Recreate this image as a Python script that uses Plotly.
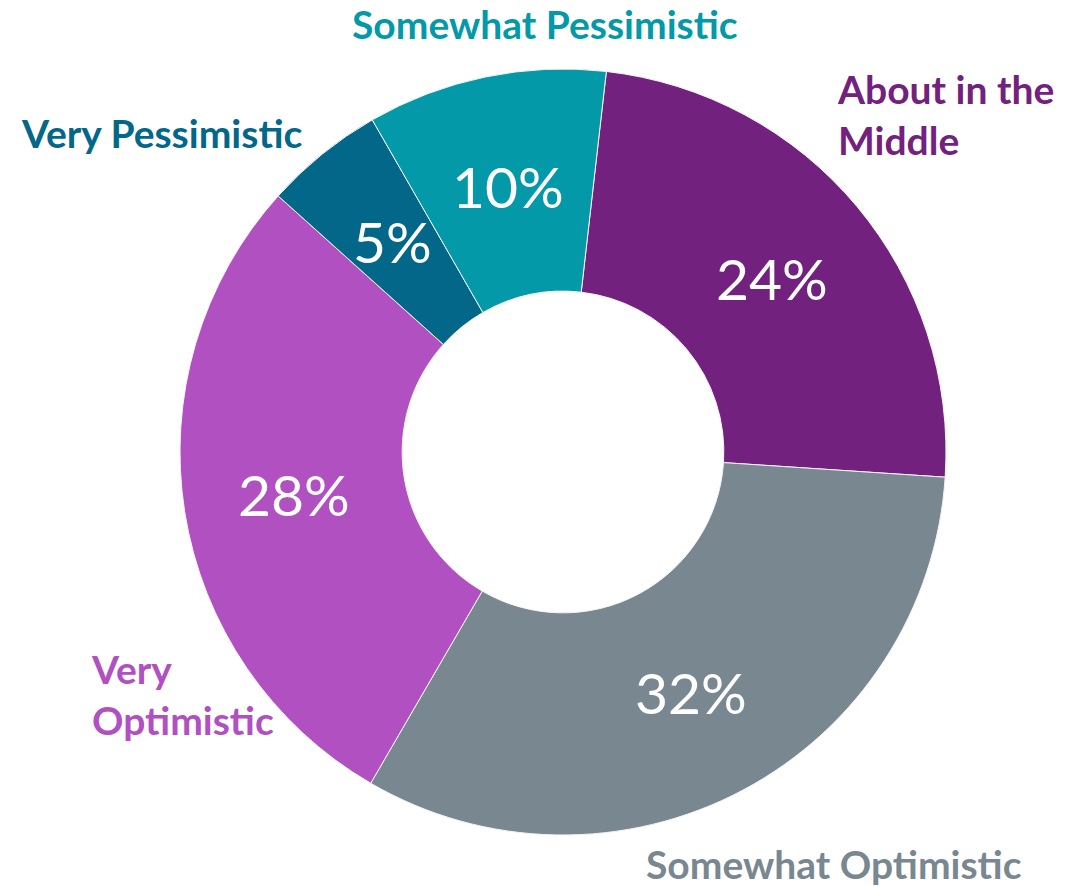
import math
import plotly.graph_objects as go

# Survey outlook shares, in drawing order (clockwise from the top)
categories = ["About in the Middle", "Somewhat Optimistic", "Very Optimistic",
              "Very Pessimistic", "Somewhat Pessimistic"]
shares = [24, 32, 28, 5, 10]
slice_colors = ["#72217E", "#798791", "#B150C1", "#03678A", "#0399A8"]

W, H = 1086, 887
START_DEG = 6.5          # first slice boundary, clockwise from 12 o'clock
HOLE = 0.42

# Ring placement in pixels
CX, CY, R = 563, 452, 383

fig = go.Figure(go.Pie(
    labels=categories,
    values=shares,
    textinfo="none",
    marker=dict(colors=slice_colors, line=dict(color="#F4F4F4", width=1)),
    hole=HOLE,
    sort=False,
    direction="clockwise",
    rotation=START_DEG,
    showlegend=False,
    hoverinfo="label+percent",
    domain=dict(x=[(CX - R) / W, (CX + R) / W], y=[1 - (CY + R) / H, 1 - (CY - R) / H]),
))

# Percent labels centred in each slice, halfway across the ring
total = sum(shares)
r_mid = R * (1 + HOLE) / 2
cum = 0
for v in shares:
    mid = math.radians(START_DEG + (cum + v / 2) / total * 360)
    cum += v
    px = CX + r_mid * math.sin(mid)
    py = CY - r_mid * math.cos(mid)
    fig.add_annotation(
        text=f"{v}%", x=px / W, y=1 - py / H, xref="paper", yref="paper",
        xanchor="center", yanchor="middle", showarrow=False,
        font=dict(family="Lato", size=57, color="white"),
    )

# Category names placed around the ring
label_specs = [
    # text, colour, x_px, y_px, xanchor
    ("Somewhat Pessimistic", "#0399A8", 545, 24, "center"),
    ("Very Pessimistic", "#03678A", 161, 133, "center"),
    ("About in the<br>Middle", "#72217E", 835, 114, "left"),
    ("Very<br>Optimistic", "#B150C1", 89, 694, "left"),
    ("Somewhat Optimistic", "#798791", 834, 864, "center"),
]
for txt, col, xp, yp, xa in label_specs:
    fig.add_annotation(
        text=f"<b>{txt}</b>", x=xp / W, y=1 - yp / H, xref="paper", yref="paper",
        xanchor=xa, yanchor="middle", align="left", showarrow=False,
        font=dict(family="Lato", size=39, color=col),
    )

fig.update_layout(
    width=W, height=H,
    margin=dict(l=0, r=0, t=0, b=0),
    paper_bgcolor="white", plot_bgcolor="white",
)

fig.write_html("out.html")
